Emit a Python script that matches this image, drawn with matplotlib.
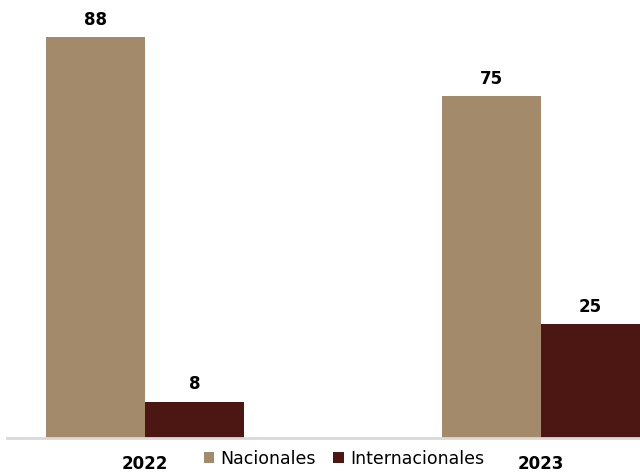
import matplotlib
matplotlib.use('Agg')
import matplotlib.pyplot as plt
import numpy as np

# Datos del gráfico
years = ['2022', '2023']
series = ['Nacionales', 'Internacionales']
nacionales = [88, 75]
internacionales = [8, 25]
colores = ['#A28A6A', '#4C1612']

fig = plt.figure(figsize=(6.4, 4.72), dpi=100)
ax = fig.add_axes([7 / 640, 1 - 438 / 472, 633 / 640, 438 / 472])

x = np.arange(len(years))
ancho = 0.25
barras_nac = ax.bar(x - ancho / 2, nacionales, ancho, color=colores[0], label=series[0])
barras_int = ax.bar(x + ancho / 2, internacionales, ancho, color=colores[1], label=series[1])

# Etiquetas de valores sobre las barras
for barras in (barras_nac, barras_int):
    ax.bar_label(barras, padding=6, fontsize=12, fontweight='bold', color='black')

ax.set_xlim(-0.3485, 1.25)
ax.set_ylim(0, 96.1)

# Ejes limpios
for lado in ('top', 'right', 'left'):
    ax.spines[lado].set_visible(False)
ax.spines['bottom'].set_color('#D9D9D9')
ax.spines['bottom'].set_linewidth(2)
ax.set_yticks([])
ax.set_xticks(x)
ax.set_xticklabels(years, fontsize=12, fontweight='bold')
ax.tick_params(axis='x', length=0, pad=12)

# Leyenda abajo, entre los años
fig.legend(loc='center', bbox_to_anchor=(344 / 640, 1 - 459 / 472), ncol=2,
           frameon=False, fontsize=12.5, handlelength=0.6, handleheight=0.6,
           handletextpad=0.35, columnspacing=1.0)

fig.savefig('out.png', dpi=100, facecolor='white')
plt.close(fig)
